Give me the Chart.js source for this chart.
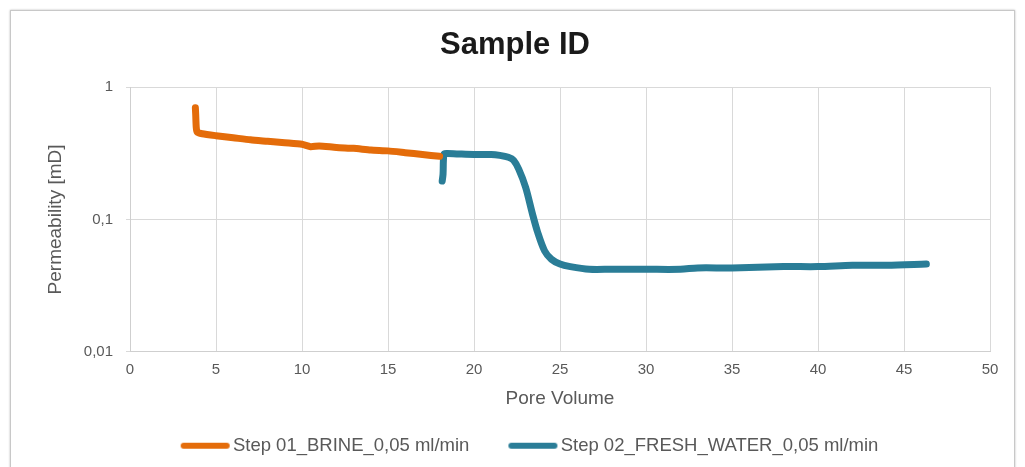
<!DOCTYPE html>
<html lang="en">
<head>
    <meta charset="UTF-8">
    <title>Sample ID</title>
    <script src="https://cdn.jsdelivr.net/npm/chart.js"></script>
    <style>
        html, body {
            margin: 0;
            padding: 0;
            background: #fff;
        }
        .frame {
            position: absolute;
            left: 10px;
            top: 10px;
            width: 1003px;
            height: 470px;
            border: 1px solid #c8c8c8;
            box-shadow: 0 0 2px #bbb;
        }
        .chart-box {
            position: absolute;
            left: 0;
            top: 0;
            width: 1025px;
            height: 467px;
        }
    </style>
</head>
<body>
    <div class="frame"></div>
    <div class="chart-box">
        <canvas id="permChart"></canvas>
    </div>

    <script>
        // Step 01 - brine
        const brineX = [3.8, 3.82, 3.85, 3.9, 4.2, 5, 6, 7, 8, 9, 10, 10.5, 11, 12, 13, 14, 15, 16, 17, 18];
        const brineY = [0.70, 0.62, 0.50, 0.46, 0.445, 0.43, 0.415, 0.40, 0.39, 0.38, 0.37, 0.355, 0.36, 0.35, 0.345, 0.335, 0.33, 0.32, 0.31, 0.30];

        // Step 02 - fresh water
        const freshX = [18.15, 18.2, 18.25, 18.4, 19, 20, 21, 21.5, 22, 22.3, 22.6, 23, 23.4, 23.7, 24.1, 24.5, 25, 25.6, 26.7, 28, 30, 32, 33, 35, 38, 40, 42, 44, 46.3];
        const freshY = [0.195, 0.22, 0.31, 0.315, 0.313, 0.31, 0.31, 0.305, 0.295, 0.28, 0.24, 0.175, 0.11, 0.08, 0.058, 0.05, 0.046, 0.044, 0.042, 0.042, 0.042, 0.042, 0.043, 0.043, 0.044, 0.044, 0.045, 0.045, 0.046];

        const yTicks = [0.01, 0.1, 1];

        const orange = '#e46c0a';
        const teal = '#2a7d97';

        function points(xs, ys) {
            return xs.map((x, i) => ({ x: x, y: ys[i] }));
        }

        // legend marker: blank on the left (item gap), thick line on the right
        function legendLine(color) {
            const c = document.createElement('canvas');
            c.width = 86;
            c.height = 8;
            const g = c.getContext('2d');
            g.strokeStyle = color;
            g.lineWidth = 6;
            g.lineCap = 'round';
            g.beginPath();
            g.moveTo(39, 4);
            g.lineTo(82, 4);
            g.stroke();
            return c;
        }

        const font = "'Liberation Sans', Arial, sans-serif";
        Chart.defaults.font.family = font;
        Chart.defaults.color = '#595959';

        new Chart(document.getElementById('permChart').getContext('2d'), {
            type: 'line',
            data: {
                datasets: [{
                    label: 'Step 01_BRINE_0,05 ml/min',
                    data: points(brineX, brineY),
                    borderColor: orange,
                    backgroundColor: orange,
                    pointStyle: legendLine(orange),
                    borderWidth: 7,
                    pointRadius: 0,
                    tension: 0.2,
                    borderCapStyle: 'round',
                    borderJoinStyle: 'round'
                }, {
                    label: 'Step 02_FRESH_WATER_0,05 ml/min',
                    data: points(freshX, freshY),
                    borderColor: teal,
                    backgroundColor: teal,
                    pointStyle: legendLine(teal),
                    borderWidth: 7,
                    pointRadius: 0,
                    tension: 0.3,
                    borderCapStyle: 'round',
                    borderJoinStyle: 'round'
                }]
            },
            options: {
                responsive: true,
                maintainAspectRatio: false,
                animation: false,
                layout: {
                    padding: { left: 40, right: 35, top: 18, bottom: 2 }
                },
                plugins: {
                    title: {
                        display: true,
                        text: 'Sample ID',
                        color: '#1a1a1a',
                        font: { size: 31, weight: 'bold', family: font },
                        padding: { top: 9, bottom: 23 }
                    },
                    legend: {
                        position: 'bottom',
                        labels: {
                            usePointStyle: true,
                            pointStyleWidth: 72,
                            boxHeight: 8,
                            padding: 10,
                            color: '#595959',
                            font: { size: 18.5 }
                        }
                    },
                    tooltip: { enabled: false }
                },
                scales: {
                    x: {
                        type: 'linear',
                        min: 0,
                        max: 50,
                        ticks: { stepSize: 5, font: { size: 15 }, color: '#595959', padding: 9 },
                        grid: { color: '#d9d9d9', drawTicks: false },
                        border: { color: '#cfcfcf' },
                        title: {
                            display: true,
                            text: 'Pore Volume',
                            color: '#595959',
                            font: { size: 19 },
                            padding: { top: 0, bottom: 16 }
                        }
                    },
                    y: {
                        type: 'logarithmic',
                        min: 0.01,
                        max: 1,
                        afterBuildTicks: (axis) => {
                            axis.ticks = yTicks.map(v => ({ value: v }));
                        },
                        afterFit: (axis) => {
                            axis.width = 90;
                        },
                        ticks: {
                            font: { size: 15 },
                            color: '#595959',
                            padding: 13,
                            callback: (v) => String(v).replace('.', ',')
                        },
                        grid: { color: '#d9d9d9', tickLength: 4 },
                        border: { color: '#cfcfcf' },
                        title: {
                            display: true,
                            text: 'Permeability [mD]',
                            color: '#595959',
                            font: { size: 19 }
                        }
                    }
                }
            }
        });
    </script>
</body>
</html>
